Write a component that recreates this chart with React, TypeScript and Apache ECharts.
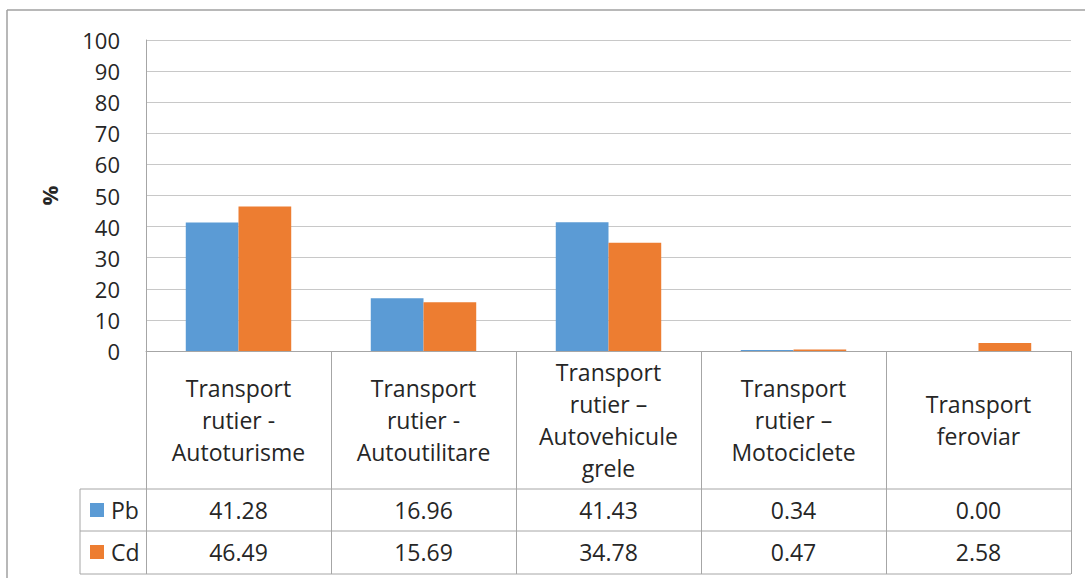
import React, { useEffect, useRef } from "react";
import * as echarts from "echarts";

const categories = [
  "Transport\nrutier -\nAutoturisme",
  "Transport\nrutier -\nAutoutilitare",
  "Transport\nrutier –\nAutovehicule\ngrele",
  "Transport\nrutier –\nMotociclete",
  "Transport\nferoviar",
];
const seriesNames = ["Pb", "Cd"];
const pbValues = [41.28, 16.96, 41.43, 0.34, 0.0];
const cdValues = [46.49, 15.69, 34.78, 0.47, 2.58];
const colors = ["#5B9BD5", "#ED7D31"];
const yTicks = { min: 0, max: 100, interval: 10 };

const FONT = "'Open Sans', 'Noto Sans', sans-serif";
const TEXT = "#262626";
const LINE = "#A6A6A6";
const FS = 23;

export default function App() {
  const ref = useRef<HTMLDivElement>(null);
  useEffect(() => {
    if (!ref.current) return;
    const chart = echarts.init(ref.current, null, { renderer: "svg" });
    const gridLeft = 146, gridRight = 1071, gridTop = 40, gridBottom = 351;
    const tableRow1 = 489, tableRow2 = 531, tableBottom = 574, legendLeft = 80;
    const hline = (y: number) => ({
      type: "line",
      shape: { x1: legendLeft, y1: y, x2: gridRight, y2: y },
      style: { stroke: LINE, lineWidth: 1 },
      silent: true,
    });
    const valueAxis = (vals: number[], offset: number) => ({
      type: "category",
      gridIndex: 0,
      position: "bottom",
      offset,
      data: vals.map((v) => v.toFixed(2)),
      axisLine: { show: false },
      axisTick: { show: false },
      splitLine: { show: false },
      axisLabel: {
        interval: 0,
        margin: 21,
        verticalAlign: "middle",
        fontSize: FS,
        fontFamily: FONT,
        color: TEXT,
      },
    });
    chart.setOption({
      animation: false,
      backgroundColor: "#ffffff",
      grid: {
        left: gridLeft,
        right: 1085 - gridRight,
        top: gridTop,
        bottom: 578 - gridBottom,
        containLabel: false,
      },
      xAxis: [
        {
          type: "category",
          data: categories,
          axisLine: { show: true, lineStyle: { color: LINE, width: 1 } },
          axisTick: {
            show: true,
            interval: 0,
            length: tableBottom - gridBottom,
            lineStyle: { color: LINE, width: 1 },
          },
          axisLabel: {
            interval: 0,
            margin: 69,
            verticalAlign: "middle",
            lineHeight: 32,
            fontSize: FS,
            fontFamily: FONT,
            color: TEXT,
            align: "center",
          },
        },
        valueAxis(pbValues, tableRow1 - gridBottom),
        valueAxis(cdValues, tableRow2 - gridBottom),
      ],
      yAxis: {
        type: "value",
        min: yTicks.min,
        max: yTicks.max,
        interval: yTicks.interval,
        name: "%",
        nameLocation: "middle",
        nameRotate: 90,
        nameGap: 86,
        nameTextStyle: { fontSize: 22, fontWeight: "bold", fontFamily: FONT, color: TEXT },
        axisLine: { show: true, lineStyle: { color: LINE, width: 1 } },
        axisTick: { show: false },
        axisLabel: { fontSize: 22, margin: 26, fontFamily: FONT, color: TEXT },
        splitLine: { lineStyle: { color: "#C8C8C8", width: 1 } },
      },
      series: [
        {
          name: seriesNames[0],
          type: "bar",
          data: pbValues,
          itemStyle: { color: colors[0] },
          barGap: "0%",
          barCategoryGap: "43%",
        },
        {
          name: seriesNames[1],
          type: "bar",
          data: cdValues,
          itemStyle: { color: colors[1] },
          barGap: "0%",
          barCategoryGap: "43%",
        },
      ],
      graphic: [
        {
          type: "line",
          shape: { x1: 7, y1: 10, x2: 1085, y2: 10 },
          style: { stroke: "#A0A0A0", lineWidth: 1.5 },
          silent: true,
        },
        {
          type: "line",
          shape: { x1: 7, y1: 10, x2: 7, y2: 578 },
          style: { stroke: "#A0A0A0", lineWidth: 1.5 },
          silent: true,
        },
        hline(tableRow1),
        hline(tableRow2),
        hline(tableBottom),
        {
          type: "line",
          shape: { x1: legendLeft, y1: tableRow1, x2: legendLeft, y2: tableBottom },
          style: { stroke: LINE, lineWidth: 1 },
          silent: true,
        },
        ...seriesNames.flatMap((name, i) => {
          const cy = (i === 0 ? tableRow1 : tableRow2) + 21;
          return [
            {
              type: "rect",
              shape: { x: 90, y: cy - 7, width: 14, height: 14 },
              style: { fill: colors[i] },
              silent: true,
            },
            {
              type: "text",
              x: 111,
              y: cy,
              style: {
                text: name,
                fontSize: FS,
                fontFamily: FONT,
                fill: TEXT,
                verticalAlign: "middle",
                align: "left",
              },
              silent: true,
            },
          ];
        }),
      ],
    });
    return () => chart.dispose();
  }, []);
  return (
    <div
      ref={ref}
      style={{ position: "absolute", left: 0, top: 0, width: 1085, height: 578 }}
    />
  );
}
